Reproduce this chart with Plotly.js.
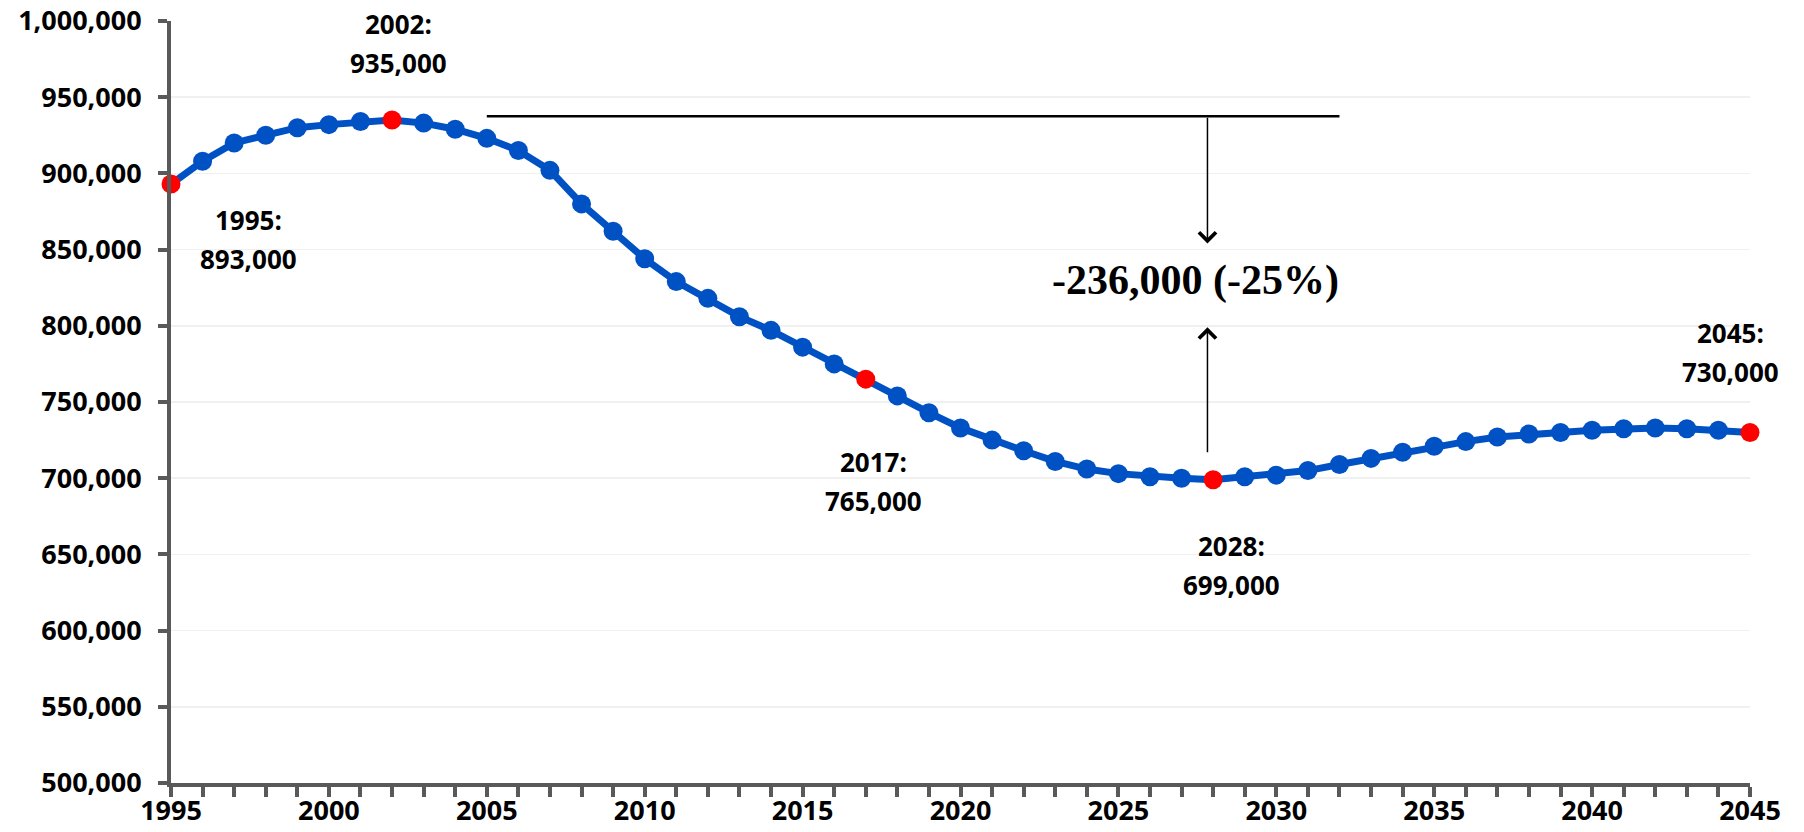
<!DOCTYPE html>
<html>
<head>
<meta charset="utf-8">
<script src="https://cdn.plot.ly/plotly-3.0.1.min.js"></script>
<style>
  html, body { margin: 0; padding: 0; background: #ffffff; }
  #chart { width: 1804px; height: 832px; }
</style>
</head>
<body>
<div id="chart"></div>
<script>
// ---- data ----
var years = [1995, 1996, 1997, 1998, 1999, 2000, 2001, 2002, 2003, 2004,
             2005, 2006, 2007, 2008, 2009, 2010, 2011, 2012, 2013, 2014,
             2015, 2016, 2017, 2018, 2019, 2020, 2021, 2022, 2023, 2024,
             2025, 2026, 2027, 2028, 2029, 2030, 2031, 2032, 2033, 2034,
             2035, 2036, 2037, 2038, 2039, 2040, 2041, 2042, 2043, 2044, 2045];
var population = [893000, 908000, 920000, 925000, 930000, 932000, 934000, 935000, 933000, 929000,
                  923000, 915000, 902000, 880000, 862000, 844000, 829000, 818000, 806000, 797000,
                  786000, 775000, 765000, 754000, 743000, 733000, 725000, 718000, 711000, 706000,
                  703000, 701000, 700000, 699000, 701000, 702000, 705000, 709000, 713000, 717000,
                  721000, 724000, 727000, 729000, 730000, 731500, 732500, 733000, 732500, 731500, 730000];
var highlightYears = [1995, 2002, 2017, 2028, 2045];
var labelTicks = [1995, 2000, 2005, 2010, 2015, 2020, 2025, 2030, 2035, 2040, 2045];
var changeText = "-236,000 (-25%)";

// ---- styling ----
var BLUE = "#0052C4";
var RED = "#FF0000";
var tickFont = {family: "Open Sans", size: 27, color: "#000000", weight: 700};
// label offsets (px) of each highlight label block relative to its point
var labelOffsets = {
  1995: {dx: 77, dy: -55},
  2002: {dx: 6, dy: 77},
  2017: {dx: 8, dy: -102},
  2028: {dx: 18, dy: -86},
  2045: {dx: -20, dy: 80}
};
var lineGap = 19.5;

var markerColors = years.map(function (y) {
  return highlightYears.indexOf(y) >= 0 ? RED : BLUE;
});

var trace = {
  x: years,
  y: population,
  type: "scatter",
  mode: "lines+markers",
  line: {color: BLUE, width: 7},
  marker: {color: markerColors, size: 19, line: {width: 0}},
  cliponaxis: false,
  hoverinfo: "x+y"
};

var annotations = [];
highlightYears.forEach(function (yr) {
  var i = years.indexOf(yr);
  var v = population[i];
  var off = labelOffsets[yr];
  var common = {
    x: yr, y: v, xref: "x", yref: "y", showarrow: false,
    font: {family: "Open Sans", size: 26, color: "#000000", weight: 700},
    xanchor: "center", yanchor: "middle", xshift: off.dx
  };
  annotations.push(Object.assign({}, common, {text: yr + ":", yshift: off.dy + lineGap}));
  annotations.push(Object.assign({}, common, {text: v.toLocaleString("en-US"), yshift: off.dy - lineGap}));
});

var minVal = Math.min.apply(null, population);
var minYear = years[population.indexOf(minVal)];
var arrowX = minYear - 0.18;
var refLevel = 937500;

// arrows
annotations.push({
  x: arrowX, y: 854000, ax: arrowX, ay: refLevel, xref: "x", yref: "y", axref: "x", ayref: "y",
  text: "", showarrow: true, arrowhead: 4, arrowsize: 2.2, arrowwidth: 1.5, arrowcolor: "#000000"
});
annotations.push({
  x: arrowX, y: 799000, ax: arrowX, ay: 716000, xref: "x", yref: "y", axref: "x", ayref: "y",
  text: "", showarrow: true, arrowhead: 4, arrowsize: 2.2, arrowwidth: 1.5, arrowcolor: "#000000"
});
annotations.push({
  x: minYear, y: 830000, xref: "x", yref: "y", xshift: -18, showarrow: false,
  text: changeText, xanchor: "center", yanchor: "middle",
  font: {family: "Liberation Serif", size: 42, color: "#000000", weight: 700}
});

var shapes = [{
  type: "line", xref: "x", yref: "y", x0: 2005, x1: 2032, y0: refLevel, y1: refLevel,
  line: {color: "#000000", width: 2.5}
}];

var layout = {
  width: 1804,
  height: 832,
  margin: {l: 171, r: 54, t: 21, b: 49, pad: 0},
  paper_bgcolor: "#ffffff",
  plot_bgcolor: "#ffffff",
  showlegend: false,
  xaxis: {
    range: [1995, 2045],
    tickmode: "array",
    tickvals: years,
    ticktext: years.map(function (y) { return labelTicks.indexOf(y) >= 0 ? String(y) : ""; }),
    ticks: "outside", ticklen: 10, tickwidth: 4, tickcolor: "#595959",
    showline: true, linecolor: "#595959", linewidth: 4,
    showgrid: false, zeroline: false,
    tickfont: tickFont,
    ticklabelstandoff: -9
  },
  yaxis: {
    range: [500000, 1000000],
    dtick: 50000,
    tick0: 500000,
    tickformat: ",d",
    ticks: "outside", ticklen: 9, tickwidth: 4, tickcolor: "#595959",
    showline: true, linecolor: "#595959", linewidth: 4,
    showgrid: true, gridcolor: "#F0F0F0", gridwidth: 1.5,
    zeroline: false,
    tickfont: tickFont,
    ticklabelstandoff: 11
  },
  annotations: annotations,
  shapes: shapes
};

Plotly.newPlot("chart", [trace], layout, {displayModeBar: false, staticPlot: true});
</script>
</body>
</html>
